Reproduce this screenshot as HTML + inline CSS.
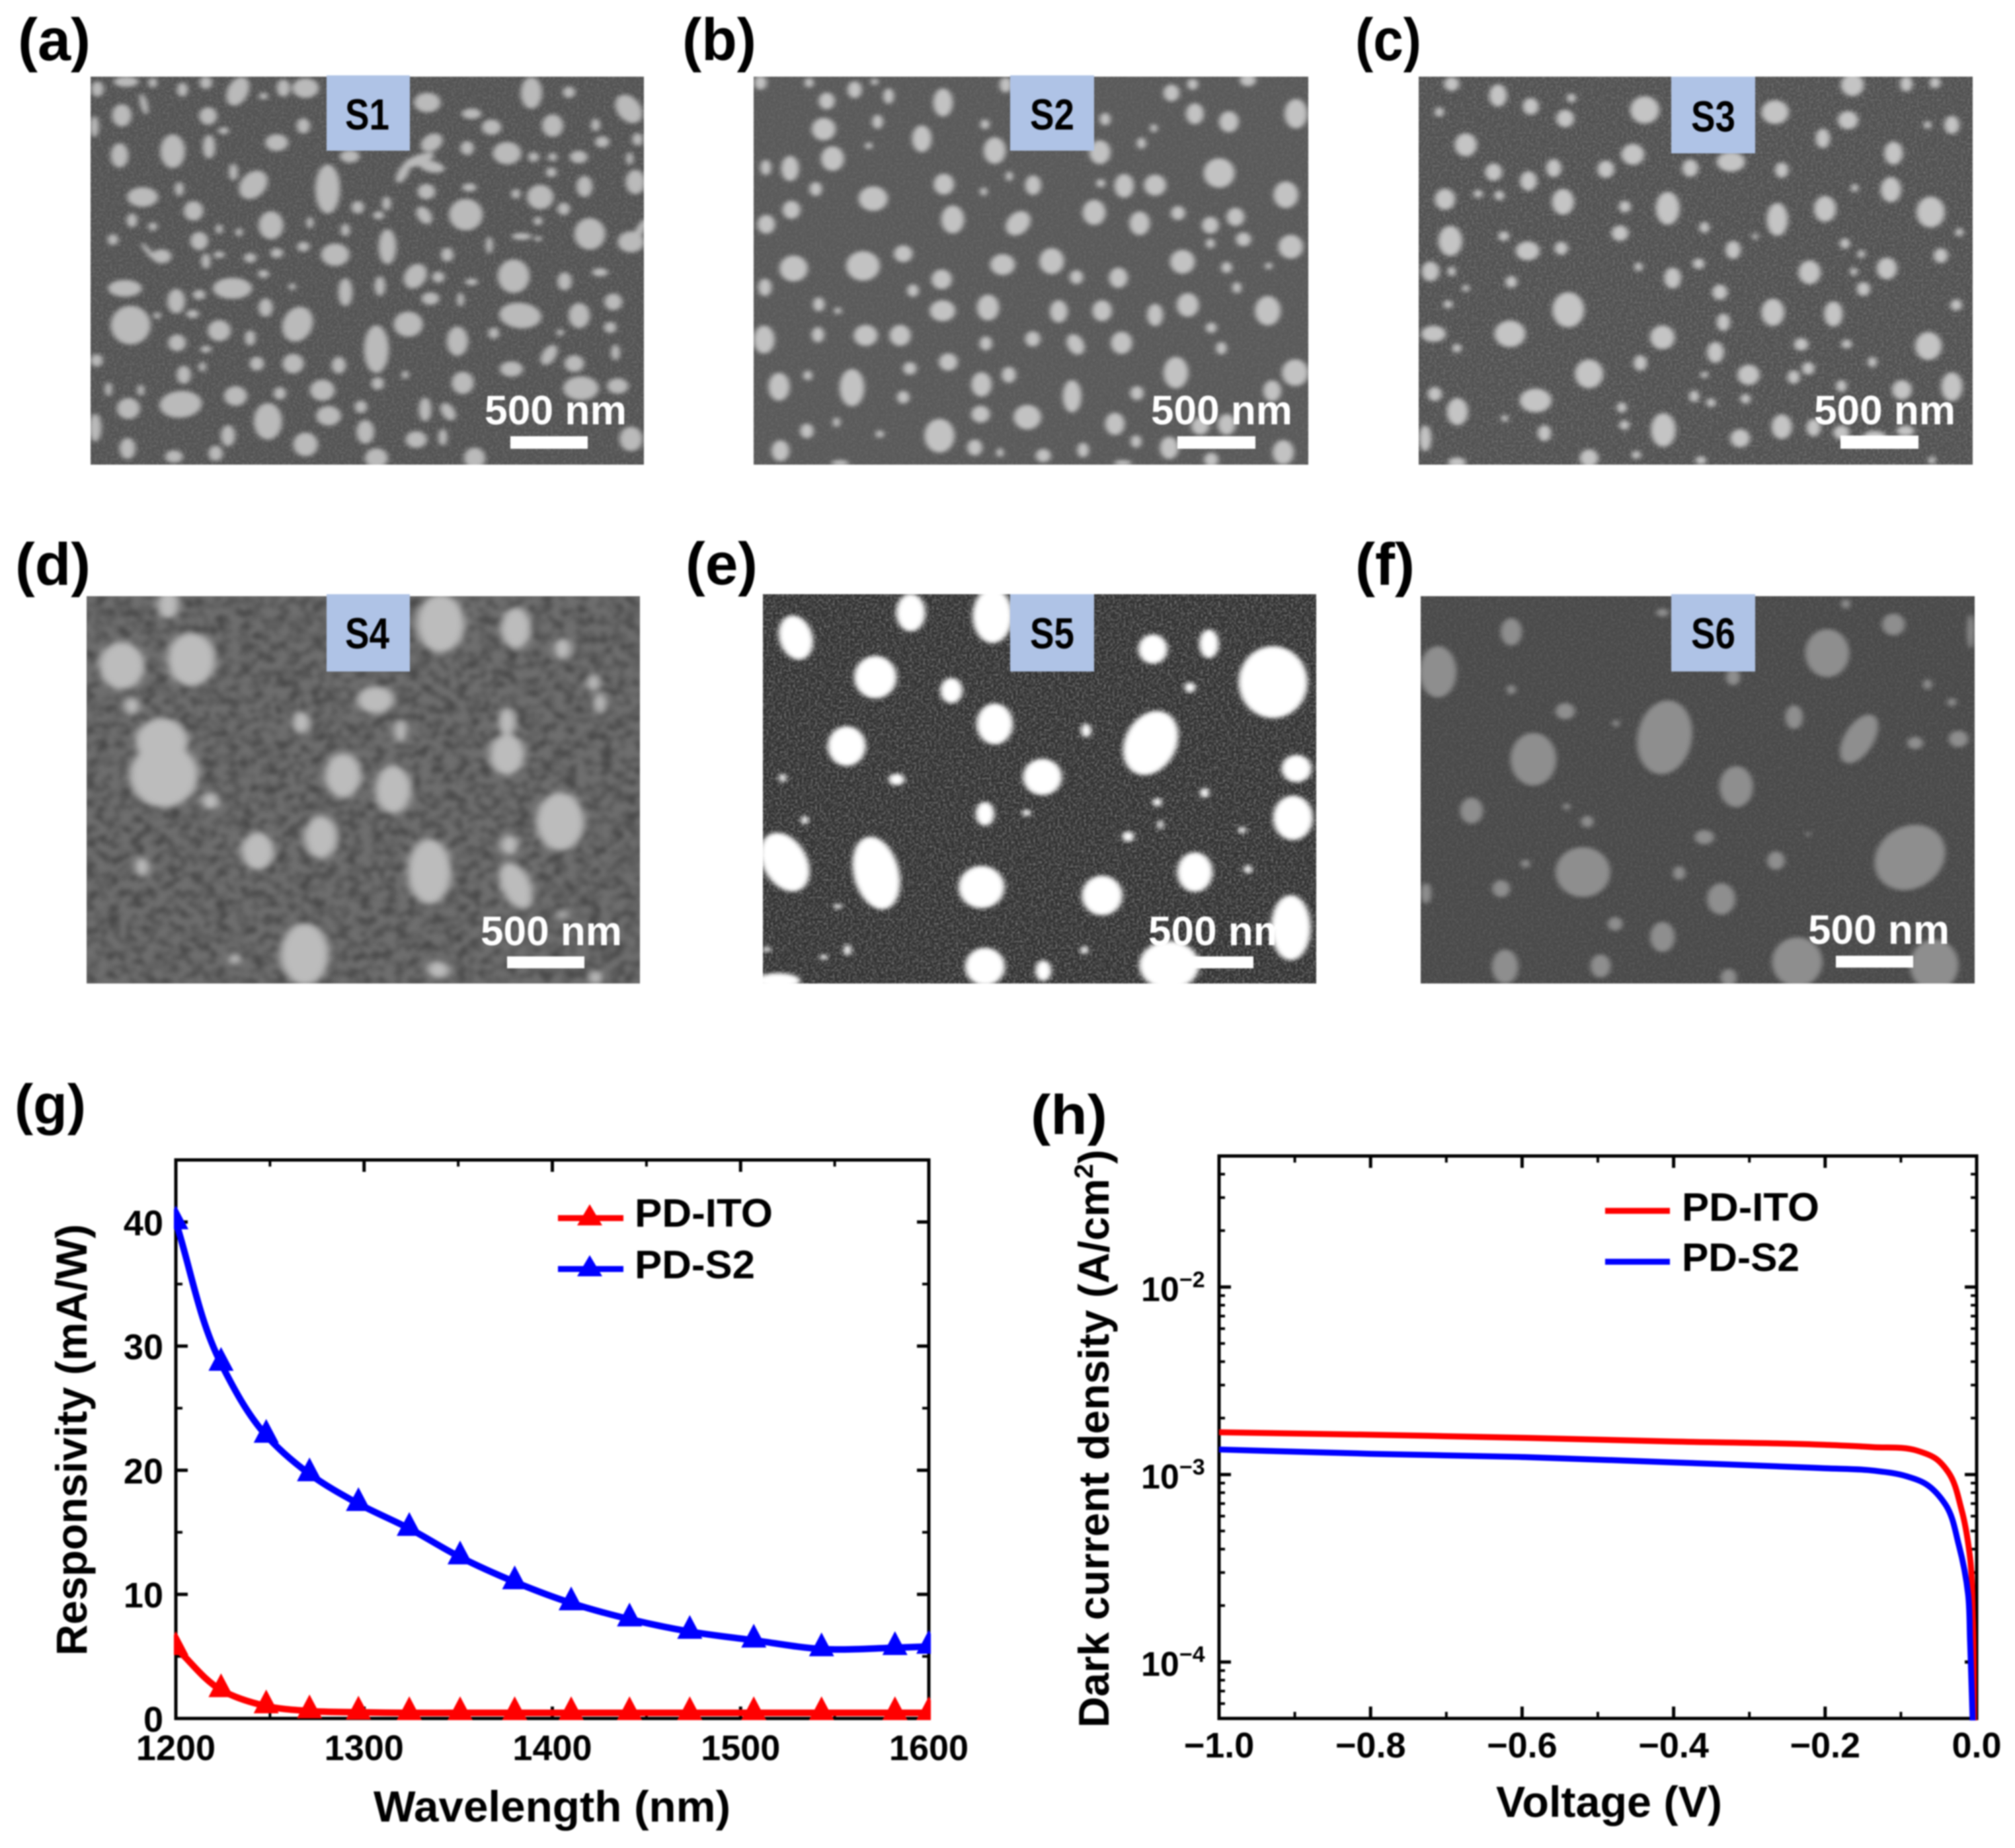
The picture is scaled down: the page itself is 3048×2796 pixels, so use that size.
<!DOCTYPE html>
<html lang="en">
<head>
<meta charset="utf-8">
<title>SEM images and photodetector characteristics</title>
<style>
html,body{margin:0;padding:0;background:#fff;}
#figure{display:block;width:3048px;height:2796px;filter:blur(1px);font-family:"Liberation Sans",Arial,sans-serif;}
text{font-family:"Liberation Sans",Arial,sans-serif;}
.lab{font-weight:700;font-size:84px;fill:#000;}
.lab-tall{font-size:90px;}
.tag{font-weight:700;font-size:66px;fill:#000;}
.bar-text{font-weight:700;font-size:62px;fill:#fff;}
.tick{font-weight:700;font-size:54px;fill:#000;}
.title{font-weight:700;font-size:66px;fill:#000;}
.leg{font-weight:700;font-size:60px;fill:#000;}
</style>
</head>
<body>
<svg id="figure" xmlns="http://www.w3.org/2000/svg" width="3048" height="2796" viewBox="0 0 3048 2796">
<defs>
<filter id="grain" x="0" y="0" width="100%" height="100%"><feTurbulence type="fractalNoise" baseFrequency="0.3" numOctaves="2" seed="4"/><feColorMatrix values="0 0 0 0 1 0 0 0 0 1 0 0 0 0 1 2.6 0 0 0 -1.05"/></filter>
<filter id="mottle" x="0" y="0" width="100%" height="100%"><feTurbulence type="fractalNoise" baseFrequency="0.055 0.075" numOctaves="3" seed="9"/><feColorMatrix values="0 0 0 0 0 0 0 0 0 0 0 0 0 0 0 2.6 0 0 0 -1"/><feGaussianBlur stdDeviation="3"/></filter>
<filter id="soft"><feGaussianBlur stdDeviation="6"/></filter>
<filter id="soft-large"><feGaussianBlur stdDeviation="9"/></filter>
<clipPath id="clip-a"><rect x="137" y="116" width="837" height="587"/></clipPath>
<clipPath id="clip-b"><rect x="1140" y="116" width="839" height="587"/></clipPath>
<clipPath id="clip-c"><rect x="2146" y="116" width="838" height="587"/></clipPath>
<clipPath id="clip-d"><rect x="131" y="902" width="837" height="586"/></clipPath>
<clipPath id="clip-e"><rect x="1154" y="899" width="837" height="589"/></clipPath>
<clipPath id="clip-f"><rect x="2149" y="902" width="838" height="586"/></clipPath>
<clipPath id="clip-g"><rect x="263" y="1752" width="1145" height="851"/></clipPath>
<clipPath id="clip-h"><rect x="1841" y="1746" width="1152" height="857"/></clipPath>
</defs>

<rect width="3048" height="2796" fill="#fff"/>

<!-- Panel a -->
<g clip-path="url(#clip-a)">
  <rect x="137" y="116" width="837" height="587" fill="#535353"/>
  <rect x="137" y="116" width="837" height="587" filter="url(#grain)" opacity="0.13"/>
  <g id="particles-a" transform="scale(0.6698,0.4847)" fill="#bababa" filter="url(#soft)"></g>
  <rect x="772" y="660" width="117" height="19" fill="#fff"/>
  <text class="bar-text" x="733" y="642" textLength="215" lengthAdjust="spacingAndGlyphs">500 nm</text>
</g>
<rect x="494" y="114" width="126" height="114" fill="#afc3e6"/>
<text class="tag" x="522" y="196" textLength="67" lengthAdjust="spacingAndGlyphs">S1</text>
<text class="lab lab-tall" x="27" y="91" textLength="110" lengthAdjust="spacingAndGlyphs">(a)</text>

<!-- Panel b -->
<g clip-path="url(#clip-b)">
  <rect x="1140" y="116" width="839" height="587" fill="#595959"/>
  <rect x="1140" y="116" width="839" height="587" filter="url(#grain)" opacity="0.08"/>
  <g id="particles-b" transform="translate(1000,0) scale(0.6684,0.4847)" fill="#c2c2c2" filter="url(#soft)"></g>
  <rect x="1781" y="660" width="118" height="19" fill="#fff"/>
  <text class="bar-text" x="1741" y="642" textLength="214" lengthAdjust="spacingAndGlyphs">500 nm</text>
</g>
<rect x="1528" y="114" width="127" height="114" fill="#afc3e6"/>
<text class="tag" x="1558" y="196" textLength="67" lengthAdjust="spacingAndGlyphs">S2</text>
<text class="lab lab-tall" x="1032" y="91" textLength="112" lengthAdjust="spacingAndGlyphs">(b)</text>

<!-- Panel c -->
<g clip-path="url(#clip-c)">
  <rect x="2146" y="116" width="838" height="587" fill="#515151"/>
  <rect x="2146" y="116" width="838" height="587" filter="url(#grain)" opacity="0.16"/>
  <g id="particles-c" transform="translate(2000,0) scale(0.6684,0.4847)" fill="#c4c4c4" filter="url(#soft)"></g>
  <rect x="2784" y="659" width="118" height="20" fill="#fff"/>
  <text class="bar-text" x="2744" y="642" textLength="214" lengthAdjust="spacingAndGlyphs">500 nm</text>
</g>
<rect x="2528" y="116" width="127" height="116" fill="#afc3e6"/>
<text class="tag" x="2558" y="199" textLength="67" lengthAdjust="spacingAndGlyphs">S3</text>
<text class="lab lab-tall" x="2050" y="91" textLength="100" lengthAdjust="spacingAndGlyphs">(c)</text>

<!-- Panel d -->
<g clip-path="url(#clip-d)">
  <rect x="131" y="902" width="837" height="586" fill="#6e6e6e"/>
  <rect x="131" y="902" width="837" height="586" filter="url(#mottle)" opacity="0.34"/>
  <g id="particles-d" transform="translate(0,790) scale(0.6698,0.4719)" fill="#bcbcbc" filter="url(#soft-large)"></g>
  <rect x="767" y="1447" width="117" height="18" fill="#fff"/>
  <text class="bar-text" x="727" y="1430" textLength="214" lengthAdjust="spacingAndGlyphs">500 nm</text>
</g>
<rect x="494" y="899" width="126" height="117" fill="#afc3e6"/>
<text class="tag" x="522" y="981" textLength="67" lengthAdjust="spacingAndGlyphs">S4</text>
<text class="lab lab-tall" x="23" y="885" textLength="114" lengthAdjust="spacingAndGlyphs">(d)</text>

<!-- Panel e -->
<g clip-path="url(#clip-e)">
  <rect x="1154" y="899" width="837" height="589" fill="#313131"/>
  <rect x="1154" y="899" width="837" height="589" filter="url(#grain)" opacity="0.3"/>
  <rect x="1778" y="1447" width="118" height="18" fill="#fff"/>
  <text class="bar-text" x="1737" y="1430" textLength="214" lengthAdjust="spacingAndGlyphs">500 nm</text>
  <g id="particles-e" transform="translate(1000,790) scale(0.6684,0.4719)" fill="#fff" filter="url(#soft)"></g>
</g>
<rect x="1528" y="899" width="127" height="117" fill="#afc3e6"/>
<text class="tag" x="1558" y="981" textLength="67" lengthAdjust="spacingAndGlyphs">S5</text>
<text class="lab lab-tall" x="1037" y="884" textLength="109" lengthAdjust="spacingAndGlyphs">(e)</text>

<!-- Panel f -->
<g clip-path="url(#clip-f)">
  <rect x="2149" y="902" width="838" height="586" fill="#494949"/>
  <rect x="2149" y="902" width="838" height="586" filter="url(#grain)" opacity="0.09"/>
  <g id="particles-f" transform="translate(2000,790) scale(0.6684,0.4719)" fill="#8e8e8e" filter="url(#soft)"></g>
  <rect x="2777" y="1446" width="117" height="18" fill="#fff"/>
  <text class="bar-text" x="2735" y="1428" textLength="214" lengthAdjust="spacingAndGlyphs">500 nm</text>
</g>
<rect x="2528" y="899" width="127" height="117" fill="#afc3e6"/>
<text class="tag" x="2558" y="981" textLength="67" lengthAdjust="spacingAndGlyphs">S6</text>
<text class="lab lab-tall" x="2050" y="885" textLength="90" lengthAdjust="spacingAndGlyphs">(f)</text>

<!-- Panel g chart -->
<text class="lab" x="22" y="1700" textLength="108" lengthAdjust="spacingAndGlyphs">(g)</text>
<g id="chart-g"></g>
<text class="title" x="565" y="2756" textLength="540" lengthAdjust="spacingAndGlyphs">Wavelength (nm)</text>
<text class="title" transform="translate(131,2505) rotate(-90)" textLength="653" lengthAdjust="spacingAndGlyphs">Responsivity (mA/W)</text>
<g>
  <g>
    <line x1="844" y1="1843" x2="943" y2="1843" stroke="#f00" stroke-width="9"/>
    <polygon points="892,1822 911,1854 873,1854" fill="#f00"/>
    <text class="leg" x="960" y="1856" textLength="209" lengthAdjust="spacingAndGlyphs">PD-ITO</text>
  </g>
  <g>
    <line x1="844" y1="1920" x2="943" y2="1920" stroke="#00f" stroke-width="9"/>
    <polygon points="892,1899 911,1931 873,1931" fill="#00f"/>
    <text class="leg" x="960" y="1934" textLength="182" lengthAdjust="spacingAndGlyphs">PD-S2</text>
  </g>
</g>

<!-- Panel h chart -->
<text class="lab" x="1559" y="1716" textLength="116" lengthAdjust="spacingAndGlyphs">(h)</text>
<g id="chart-h"></g>
<text class="title" x="2263" y="2749" textLength="342" lengthAdjust="spacingAndGlyphs">Voltage (V)</text>
<text class="title" transform="translate(1677,2614) rotate(-90)" style="font-size:65px">Dark current density (A/cm<tspan dy="-24" font-size="40">2</tspan><tspan dy="24">)</tspan></text>
<g>
  <g>
    <line x1="2428" y1="1832" x2="2526" y2="1832" stroke="#f00" stroke-width="9"/>
    <text class="leg" x="2544" y="1847" textLength="208" lengthAdjust="spacingAndGlyphs">PD-ITO</text>
  </g>
  <g>
    <line x1="2428" y1="1909" x2="2526" y2="1909" stroke="#00f" stroke-width="9"/>
    <text class="leg" x="2544" y="1923" textLength="178" lengthAdjust="spacingAndGlyphs">PD-S2</text>
  </g>
</g>
</svg>

<script>
/* ---- Chart g data ---- */
const wavelengths = [1200,1224,1248,1271,1297,1324,1351,1380,1410,1441,1473,1507,1543,1582,1600];
const responsivityS2 = [40,28.6,22.8,19.7,17.3,15.3,13,11,9.3,8,7,6.3,5.6,5.7,5.8];
const responsivityITO = [5.7,2.3,1.0,0.6,0.5,0.45,0.45,0.45,0.45,0.45,0.45,0.45,0.45,0.45,0.45];
const gXMajor = [1200,1300,1400,1500,1600];
const gXMinor = [1250,1350,1450,1550];
const gYMajor = [0,10,20,30,40];
const gYMinor = [5,15,25,35,45];

/* ---- Chart h data ---- */
const voltageITO = [-1,-0.8,-0.6,-0.4,-0.2,-0.137,-0.0785,-0.052,-0.0375,-0.02,-0.0087,-0.005,-0.0035];
const darkITO = [1.68e-3,1.63e-3,1.57e-3,1.5e-3,1.44e-3,1.40e-3,1.34e-3,1.2e-3,1.03e-3,6.5e-4,3.6e-4,1.7e-4,4.5e-5];
const voltageS2 = [-1,-0.8,-0.6,-0.4,-0.2,-0.137,-0.093,-0.067,-0.041,-0.0235,-0.0113,-0.0087,-0.005];
const darkS2 = [1.36e-3,1.29e-3,1.24e-3,1.16e-3,1.08e-3,1.05e-3,9.8e-4,8.9e-4,6.9e-4,4.2e-4,2.3e-4,1.3e-4,4.5e-5];
const hXMajor = [-1,-0.8,-0.6,-0.4,-0.2,0];
const hXMajorLabels = ["\u22121.0","\u22120.8","\u22120.6","\u22120.4","\u22120.2","0.0"];
const hXMinor = [-0.9,-0.7,-0.5,-0.3,-0.1];
const hYDecades = [-4,-3,-2];
const hYDecadeLabels = ["\u22124","\u22123","\u22122"];
const hYMinor = [6e-5,7e-5,8e-5,9e-5,2e-4,3e-4,4e-4,5e-4,6e-4,7e-4,8e-4,9e-4,2e-3,3e-3,4e-3,5e-3,6e-3,7e-3,8e-3,9e-3,2e-2,3e-2,4e-2];

/* ---- SEM particles: centre x, centre y, radius x, radius y, rotation ---- */
const particlesA = [[285,255,28,15],[220,278,14,22],[345,258,10,14],[412,280,12,20],[465,258,14,18],[537,285,24,42,15],[640,275,15,25],[690,275,30,28],[595,300,10,10],[275,360,22,32],[325,325,8,30,-10],[470,362,20,25],[213,395,10,30],[505,408,12,10],[685,393,15,22],[965,320,30,28],[1065,355,22,15],[1110,397,22,22],[1200,290,24,45],[1285,288,14,16],[1420,340,28,42,-20],[1248,392,24,32],[1345,390,10,18],[1360,443,16,16],[1440,435,12,18],[390,472,28,48],[270,485,20,35],[472,458,14,34],[625,445,26,24],[790,488,22,18],[975,445,22,28,30],[945,500,40,14,-30],[975,520,30,16,20],[910,540,12,30,20],[1055,462,15,20],[1145,478,32,32],[1205,490,12,14],[1248,490,10,12],[1307,490,20,18],[1422,495,8,18],[1245,538,12,14],[527,537,10,24],[572,577,30,42,20],[740,590,28,70],[405,590,10,20],[322,615,35,28],[1060,585,16,12],[963,598,20,22],[1435,568,22,35],[1320,582,18,30],[1220,615,30,35],[1165,605,10,14],[437,658,22,28],[808,647,14,18],[873,635,10,20],[1052,670,38,45],[1273,652,14,18],[958,672,16,26,-20],[855,672,12,12],[298,688,12,20],[612,703,28,40],[495,715,8,14],[345,707,10,12],[700,695,8,16],[1215,690,10,12],[1332,730,35,45],[1178,738,22,10],[1425,755,30,30],[1445,720,10,35,20],[450,752,20,26],[255,748,12,16],[540,725,8,12],[780,718,10,18],[875,770,20,50],[1105,765,8,24],[1215,745,8,8],[365,800,22,20,-30],[335,785,6,28,-30],[757,795,32,32],[625,790,14,14],[495,795,12,10],[565,805,14,14],[685,770,14,14],[465,815,10,22],[1160,862,36,48],[938,862,25,36,15],[990,865,14,16],[1275,878,16,26],[1355,850,18,12],[1010,795,14,20],[595,855,12,12],[525,900,44,30],[282,900,38,24],[398,940,20,35],[780,912,16,40],[858,893,12,28],[660,895,8,10],[1065,880,14,10],[972,932,20,18],[1040,935,8,20],[1385,942,20,24],[600,960,16,26],[450,920,14,14],[295,1015,45,55],[672,1012,34,50,10],[1175,985,48,36,15],[1308,985,24,36],[922,1012,33,36],[495,1032,26,30],[435,980,14,12],[355,985,8,10],[1378,1022,14,16],[400,1070,20,24],[565,1055,12,22],[1033,1065,24,42],[850,1090,28,68],[465,1090,12,10],[1115,1040,12,16],[1265,1038,8,10],[1240,1108,16,30,20],[1390,1100,10,22],[662,1135,24,28],[580,1135,16,20],[765,1140,16,24],[218,1125,14,18],[1297,1135,22,24],[1155,1152,26,22],[415,1170,16,26],[457,1145,8,14],[915,1170,8,12],[1045,1195,25,32],[853,1197,14,18],[728,1218,28,30],[532,1236,26,28],[1312,1212,40,34],[1395,1205,24,22],[632,1228,14,18],[245,1215,8,20],[318,1218,8,16],[960,1278,14,34],[1012,1285,15,26,-20],[408,1262,48,38,-15],[290,1275,26,30],[815,1270,14,18],[742,1298,28,28],[605,1315,32,52],[215,1335,14,40],[825,1348,20,34],[515,1360,16,30],[940,1372,24,24],[1000,1365,10,24],[1425,1370,26,35],[690,1387,28,34],[288,1400,18,30],[393,1425,20,18],[487,1415,16,22],[850,1430,26,28],[1072,1430,24,30]];
const particlesB = [[225,258,14,20],[335,258,10,14],[438,280,16,24],[515,300,12,22],[483,255,8,10],[375,315,18,24],[638,320,22,40],[780,265,14,22],[1155,290,18,24],[1203,263,12,16],[1328,250,18,18],[1208,355,20,30],[1285,380,22,30],[1437,355,26,42],[368,403,27,32],[490,380,12,20],[590,433,22,38],[733,388,10,14],[1005,372,12,18],[1087,447,10,16],[1115,400,8,12],[755,470,25,38],[993,475,24,34],[388,495,26,35],[292,526,20,36],[237,523,12,22],[470,455,8,10],[1263,540,35,42],[1048,580,22,34],[1118,578,25,30],[995,572,10,12],[842,578,18,28],[640,575,23,30],[350,590,14,20],[480,620,33,35],[295,655,20,26],[1414,608,28,38],[730,598,8,12],[788,550,8,14],[660,685,26,40],[808,697,26,36,20],[980,663,26,36],[1083,697,23,34],[1170,665,16,20],[1300,677,20,26],[1243,703,19,24],[238,700,20,27],[1318,747,17,20],[1425,770,28,34],[1243,760,10,14],[548,792,21,24],[457,830,38,42],[300,838,32,37],[773,826,28,30],[884,815,28,37],[1180,817,28,34],[1280,835,12,16],[1375,830,8,10],[635,872,23,28],[940,865,15,20],[1035,867,21,29],[235,897,15,25],[1303,898,10,16],[570,907,13,18],[740,960,25,37],[637,970,29,30],[900,972,20,32],[998,970,22,30],[1118,983,18,32],[1192,952,25,34],[1373,970,29,42],[357,950,13,20],[400,970,8,10],[233,1060,24,40],[463,1047,27,30],[541,1047,24,30],[355,1045,14,22],[735,1072,14,20],[841,1058,17,22],[938,1075,19,30,-15],[1042,1070,24,32],[1245,1023,12,15],[1268,1087,12,18],[650,1130,21,25],[563,1150,15,18],[1165,1163,28,45],[1435,1163,30,38],[267,1207,24,40],[432,1210,28,53],[332,1172,10,14],[725,1200,23,35],[787,1170,16,23],[1383,1220,20,30],[930,1237,21,46],[548,1240,14,18],[1077,1227,15,20],[723,1293,21,24],[829,1302,31,35],[1027,1323,22,32],[330,1345,15,21],[630,1360,34,48],[1220,1330,20,25],[1280,1325,20,30],[1075,1378,12,18],[270,1407,20,30],[710,1397,17,23],[955,1405,13,21],[1150,1398,21,32],[1408,1412,24,35],[865,1422,17,19],[767,1413,8,13],[495,1355,9,11],[397,1318,8,14],[1245,1435,16,20],[405,1445,20,8],[1045,1445,20,8]];
const particlesC = [[293,262,17,20],[398,298,20,32],[472,332,18,24],[564,306,10,13],[265,350,10,14],[550,370,20,25],[730,343,33,39],[1025,350,31,34],[1200,265,26,32],[1322,262,14,22],[1387,258,12,16],[1190,375,23,26],[1425,390,17,26],[1370,390,8,12],[325,452,25,33],[1133,432,16,28],[703,482,26,30],[1293,478,21,33],[925,505,32,28],[833,525,18,25],[388,537,19,25],[524,525,17,26],[642,528,19,25],[1040,531,15,22],[467,565,19,28],[278,622,23,30],[353,605,10,12],[401,610,11,14],[545,630,25,37],[685,645,13,17],[782,650,27,47],[1030,685,24,47],[1138,652,25,37],[1287,592,23,36],[1377,662,32,44],[1205,587,8,12],[865,710,11,16],[674,728,19,22],[290,752,27,43],[411,737,12,14],[1442,725,9,12],[465,783,27,27],[541,775,15,19],[980,738,6,10],[930,780,17,26],[1183,760,11,15],[1220,793,8,12],[1400,798,16,21],[245,847,20,28],[293,847,9,14],[852,823,13,15],[716,833,9,13],[793,868,19,30],[1103,850,25,34],[1278,838,23,31],[1203,848,8,12],[428,880,13,17],[900,912,17,22],[1225,902,15,20],[325,900,8,10],[285,950,10,12],[557,967,36,50],[1020,975,26,39],[1157,980,21,36],[1435,952,13,16],[908,1006,15,25],[252,1042,28,23],[425,1042,35,38],[770,1053,28,34],[305,1087,10,13],[1084,1075,16,18],[1187,1074,11,13],[1372,1080,30,40],[890,1100,19,30],[1245,1130,10,15],[720,1133,15,22],[1100,1150,14,18],[604,1167,32,41],[965,1170,25,29],[1067,1177,14,19],[865,1170,8,10],[1425,1207,24,41],[1312,1217,22,28],[1175,1205,12,17],[255,1230,16,20],[483,1250,36,34],[842,1237,11,17],[880,1257,10,13],[958,1245,11,14],[306,1285,24,39],[678,1272,11,15],[413,1306,8,10],[684,1327,11,14],[772,1342,28,48],[1040,1332,23,35],[1112,1335,16,25],[1175,1350,18,20],[503,1352,15,23],[233,1368,14,37],[946,1368,22,26],[1250,1360,25,14],[1320,1345,20,15],[604,1430,21,25],[711,1420,10,12],[305,1443,20,14],[857,1437,12,12],[1380,1437,8,12]];
const particlesD = [[380,265,25,40],[995,325,55,85],[1165,340,35,60],[1270,405,20,30],[275,460,52,70],[432,440,55,78],[848,570,42,40],[298,590,18,24],[680,642,20,32],[905,670,15,35],[1340,515,14,24],[1355,580,14,30],[1145,745,40,60],[365,705,60,70],[370,810,78,95],[775,812,42,65],[888,857,42,70],[475,895,20,25],[1265,960,55,85],[1145,640,20,40],[725,1010,38,62],[582,1055,38,55],[970,1120,50,95],[1150,1035,20,30],[320,1105,16,28],[1165,1165,35,70,-15],[688,1385,55,90],[990,1435,25,25],[1345,1460,15,20],[1270,1258,12,12],[530,1400,15,15]];
const particlesE = [[305,370,38,65,-8],[565,290,33,55],[750,300,45,80],[1113,407,33,43],[1240,390,22,42],[1385,513,78,105],[485,497,48,62],[657,540,25,37],[755,647,41,60],[1197,530,12,15],[1108,708,60,95,12],[962,668,11,20],[420,718,43,58],[863,817,44,53],[1438,790,34,40],[533,825,18,17],[275,820,8,12],[733,935,21,35],[827,932,9,10],[1430,948,45,65],[1123,898,10,12],[1230,868,10,14],[1130,970,6,14],[1057,1008,13,15],[325,955,8,12],[1315,987,8,10],[280,1090,52,88,-15],[487,1125,52,107,-8],[725,1170,52,62],[998,1197,46,58],[1208,1122,40,58],[1328,1113,9,12],[1425,1300,45,95],[733,1425,45,55],[865,1438,18,30],[1150,1420,68,70],[265,1470,50,22],[422,1372,8,16],[958,1372,8,12],[368,1395,8,8],[240,1370,8,8],[400,1232,8,8]];
const particlesF = [[428,352,24,40],[1293,328,26,32],[262,480,42,75],[1143,420,50,70],[930,497,16,24],[1468,350,8,50],[1185,262,10,14],[770,290,14,12],[428,537,10,14],[550,606,22,24],[1068,625,20,35],[775,690,62,108,5],[478,760,52,77],[1215,695,35,75,20],[1342,708,18,18],[1440,695,22,24],[937,848,38,60],[338,925,26,38],[600,960,14,17],[553,912,8,10],[865,1010,22,21],[1330,1075,78,97,15],[1027,1085,20,27],[590,1122,62,73],[808,1125,14,20],[405,1175,20,25],[235,1190,12,30],[903,1208,32,46],[663,1288,17,20],[770,1330,28,44],[1075,1410,57,72],[1385,1420,55,75],[414,1425,30,50],[630,1423,23,34],[920,1460,18,25],[1425,577,10,12],[1370,520,10,15],[665,645,8,10],[460,1095,10,12],[1100,1000,5,7],[495,797,13,15]];

const SVGNS = "http://www.w3.org/2000/svg";

function make(tag, attrs, parent) {
  const el = document.createElementNS(SVGNS, tag);
  for (const k in attrs) el.setAttribute(k, attrs[k]);
  parent.appendChild(el);
  return el;
}

function drawParticles(id, list) {
  const g = document.getElementById(id);
  list.forEach(function (p) {
    const attrs = { cx: p[0], cy: p[1], rx: p[2], ry: p[3] * 1.1 };
    if (p[4]) attrs.transform = "rotate(" + p[4] + " " + p[0] + " " + p[1] + ")";
    const el = make("ellipse", attrs, g);
    
    
  });
}
drawParticles("particles-a", particlesA);
drawParticles("particles-b", particlesB);
drawParticles("particles-c", particlesC);
drawParticles("particles-d", particlesD);
drawParticles("particles-e", particlesE);
drawParticles("particles-f", particlesF);

/* Non-uniform (chord-length) spline, so unevenly spaced points do not kink */
function splinePath(points) {
  const n = points.length;
  const dist = [];
  for (let i = 0; i < n - 1; i++) {
    dist.push(Math.max(Math.hypot(points[i + 1][0] - points[i][0], points[i + 1][1] - points[i][1]), 0.001));
  }
  const tangents = points.map(function (p, i) {
    if (i === 0) return [(points[1][0] - p[0]) / dist[0], (points[1][1] - p[1]) / dist[0]];
    if (i === n - 1) return [(p[0] - points[i - 1][0]) / dist[i - 1], (p[1] - points[i - 1][1]) / dist[i - 1]];
    const d0 = dist[i - 1];
    const d1 = dist[i];
    return [
      ((p[0] - points[i - 1][0]) / d0 * d1 + (points[i + 1][0] - p[0]) / d1 * d0) / (d0 + d1),
      ((p[1] - points[i - 1][1]) / d0 * d1 + (points[i + 1][1] - p[1]) / d1 * d0) / (d0 + d1)
    ];
  });
  let d = "M" + points[0][0] + " " + points[0][1];
  for (let i = 0; i < n - 1; i++) {
    const h = dist[i] / 3;
    d += "C" + (points[i][0] + tangents[i][0] * h) + " " + (points[i][1] + tangents[i][1] * h) + " " +
         (points[i + 1][0] - tangents[i + 1][0] * h) + " " + (points[i + 1][1] - tangents[i + 1][1] * h) + " " +
         points[i + 1][0] + " " + points[i + 1][1];
  }
  return d;
}

function tickLine(parent, x1, y1, x2, y2, width) {
  const el = make("line", { x1: x1, y1: y1, x2: x2, y2: y2, stroke: "#000", "stroke-width": width }, parent);
  
  
}

function frameAndXTicks(parent, box, xScale, major, minor) {
  const frame = make("rect", { x: box.l, y: box.t, width: box.r - box.l, height: box.b - box.t, fill: "none", stroke: "#000", "stroke-width": 5 }, parent);
  
  
  major.forEach(function (v) {
    tickLine(parent, xScale(v), box.b, xScale(v), box.b - 18, 5);
    tickLine(parent, xScale(v), box.t, xScale(v), box.t + 18, 5);
  });
  minor.forEach(function (v) {
    tickLine(parent, xScale(v), box.b, xScale(v), box.b - 10, 4);
    tickLine(parent, xScale(v), box.t, xScale(v), box.t + 10, 4);
  });
}

function yTicks(parent, box, yVal, width, len) {
  tickLine(parent, box.l, yVal, box.l + len, yVal, width);
  tickLine(parent, box.r, yVal, box.r - len, yVal, width);
}

/* ---- Chart g ---- */
const gBox = { l: 266, r: 1405, t: 1755, b: 2600 };
function gx(v) { return gBox.l + (v - 1200) / 400 * (gBox.r - gBox.l); }
function gy(v) { return gBox.b - v / 45 * (gBox.b - gBox.t); }
const chartG = document.getElementById("chart-g");
frameAndXTicks(chartG, gBox, gx, gXMajor, gXMinor);
gYMajor.forEach(function (v) { yTicks(chartG, gBox, gy(v), 5, 18); });
gYMinor.forEach(function (v) { yTicks(chartG, gBox, gy(v), 4, 10); });
gXMajor.forEach(function (v) {
  const t = make("text", { class: "tick", x: gx(v), y: 2663, "text-anchor": "middle" }, chartG);
  t.textContent = String(v);
  
  
});
gYMajor.forEach(function (v) {
  const t = make("text", { class: "tick", x: 247, y: gy(v) + 20, "text-anchor": "end" }, chartG);
  t.textContent = String(v);
  
  
});
const gPlot = make("g", { "clip-path": "url(#clip-g)" }, chartG);



function drawMarkerSeries(values, colour, seriesName) {
  const pts = wavelengths.map(function (w, i) { return [gx(w), gy(values[i])]; });
  const line = make("path", { d: splinePath(pts), fill: "none", stroke: colour, "stroke-width": 10, "stroke-linejoin": "round" }, gPlot);
  
  
  pts.forEach(function (p) {
    const tri = make("polygon", { points: p[0] + "," + (p[1] - 25) + " " + (p[0] + 19) + "," + (p[1] + 11) + " " + (p[0] - 19) + "," + (p[1] + 11), fill: colour }, gPlot);
    
    
  });
}
drawMarkerSeries(responsivityITO, "#f00", "pd-ito");
drawMarkerSeries(responsivityS2, "#00f", "pd-s2");

/* ---- Chart h ---- */
const hBox = { l: 1844, r: 2990, t: 1749, b: 2600 };
function hx(v) { return hBox.l + (v + 1) * (hBox.r - hBox.l); }
function hy(v) { return hBox.t + (Math.log10(5e-2) - Math.log10(v)) / 3 * (hBox.b - hBox.t); }
const chartH = document.getElementById("chart-h");
frameAndXTicks(chartH, hBox, hx, hXMajor, hXMinor);
hYDecades.forEach(function (d) { yTicks(chartH, hBox, hy(Math.pow(10, d)), 5, 18); });
hYMinor.forEach(function (v) { yTicks(chartH, hBox, hy(v), 4, 9); });
hXMajor.forEach(function (v, i) {
  const t = make("text", { class: "tick", x: hx(v), y: 2659, "text-anchor": "middle" }, chartH);
  t.textContent = hXMajorLabels[i];
  
  
});
hYDecades.forEach(function (d, i) {
  const yPos = hy(Math.pow(10, d));
  const t = make("text", { class: "tick", x: 1726, y: yPos + 21, style: "font-size:52px" }, chartH);
  
  
  const base = make("tspan", {}, t);
  base.textContent = "10";
  const exp = make("tspan", { dy: -21, "font-size": 34 }, t);
  exp.textContent = hYDecadeLabels[i];
});
const hPlot = make("g", { "clip-path": "url(#clip-h)" }, chartH);



function drawCurve(xs, ys, colour, seriesName) {
  const pts = xs.map(function (v, i) { return [hx(v), hy(ys[i])]; });
  const line = make("path", { d: splinePath(pts), fill: "none", stroke: colour, "stroke-width": 9, "stroke-linejoin": "round" }, hPlot);
  
  
}
drawCurve(voltageITO, darkITO, "#f00", "pd-ito");
drawCurve(voltageS2, darkS2, "#00f", "pd-s2");
</script>
</body>
</html>
